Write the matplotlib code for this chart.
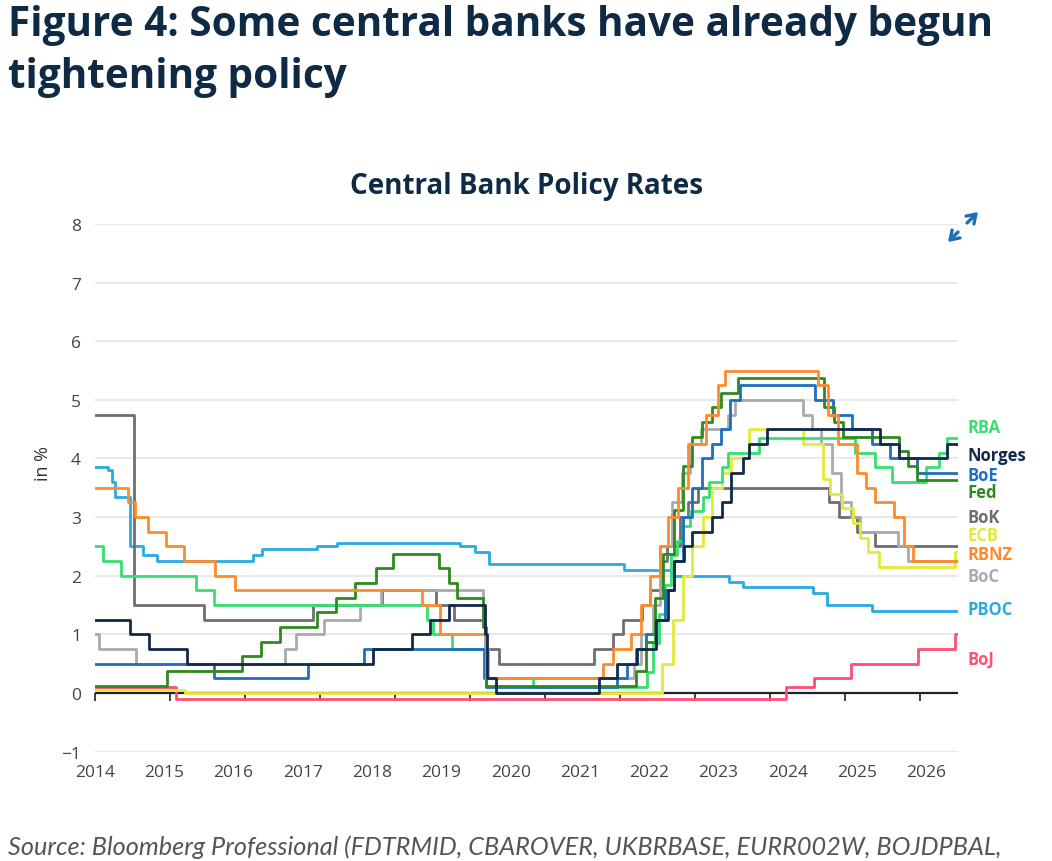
import numpy as np
import matplotlib
matplotlib.use("Agg")
import matplotlib.pyplot as plt
from matplotlib.patches import FancyArrowPatch

# policy rate series: change dates (decimal years) and rate after each change
fed_d = [2015.0, 2015.96, 2016.96, 2017.21, 2017.46, 2017.96, 2018.21, 2018.46, 2018.74, 2018.97,
         2019.58, 2019.72, 2019.83, 2020.17, 2020.21, 2022.21, 2022.34, 2022.46, 2022.57, 2022.72,
         2022.84, 2022.96, 2023.09, 2023.22, 2023.34, 2023.57, 2024.72, 2024.85, 2024.97, 2025.71,
         2025.83, 2025.95]
fed_r = [0.125, 0.375, 0.625, 0.875, 1.125, 1.375, 1.625, 1.875, 2.125, 2.375,
         2.125, 1.875, 1.625, 1.125, 0.125, 0.375, 0.875, 1.625, 2.375, 3.125,
         3.875, 4.375, 4.625, 4.875, 5.125, 5.375, 4.875, 4.625, 4.375, 4.125,
         3.875, 3.625]

boe_d = [2015.0, 2016.59, 2017.84, 2018.59, 2020.19, 2020.21, 2021.96, 2022.09, 2022.21, 2022.34,
         2022.46, 2022.59, 2022.72, 2022.84, 2022.96, 2023.09, 2023.22, 2023.34, 2023.46, 2023.59,
         2024.59, 2024.84, 2025.09, 2025.35, 2025.59, 2025.96]
boe_r = [0.5, 0.25, 0.5, 0.75, 0.25, 0.1, 0.25, 0.5, 0.75, 1.0,
         1.25, 1.75, 2.25, 3.0, 3.5, 4.0, 4.25, 4.5, 5.0, 5.25,
         5.0, 4.75, 4.5, 4.25, 4.0, 3.75]

ecb_d = [2015.0, 2016.2, 2022.55, 2022.7, 2022.84, 2022.96, 2023.1, 2023.22, 2023.36, 2023.47,
         2023.71, 2024.43, 2024.7, 2024.79, 2024.96, 2025.1, 2025.2, 2025.3, 2025.45, 2026.46]
ecb_r = [0.05, 0.0, 0.5, 1.25, 2.0, 2.5, 3.0, 3.5, 3.75, 4.0,
         4.5, 4.25, 3.65, 3.4, 3.15, 2.9, 2.65, 2.4, 2.15, 2.4]

boj_d = [2015.0, 2016.08, 2024.21, 2024.58, 2025.08, 2025.97, 2026.46]
boj_r = [0.1, -0.1, 0.1, 0.25, 0.5, 0.75, 1.0]

pboc_d = [2015.0, 2015.17, 2015.23, 2015.27, 2015.47, 2015.64, 2015.83, 2017.1, 2017.22, 2017.96,
          2018.23, 2019.87, 2020.07, 2020.25, 2022.05, 2022.68, 2023.45, 2023.64, 2024.57, 2024.75,
          2025.35]
pboc_r = [3.85, 3.8, 3.6, 3.35, 2.5, 2.35, 2.25, 2.35, 2.45, 2.5,
          2.55, 2.5, 2.4, 2.2, 2.1, 2.0, 1.9, 1.8, 1.7, 1.5,
          1.4]

rba_d = [2015.0, 2015.1, 2015.35, 2016.34, 2016.59, 2019.43, 2019.51, 2019.76, 2020.21, 2020.84,
         2022.35, 2022.43, 2022.51, 2022.59, 2022.68, 2022.76, 2022.84, 2022.93, 2023.1, 2023.18,
         2023.35, 2023.43, 2023.85, 2025.13, 2025.39, 2025.62, 2026.08, 2026.25, 2026.35]
rba_r = [2.5, 2.25, 2.0, 1.75, 1.5, 1.25, 1.0, 0.75, 0.25, 0.1,
         0.35, 0.85, 1.35, 1.85, 2.35, 2.6, 2.85, 3.1, 3.35, 3.6,
         3.85, 4.1, 4.35, 4.1, 3.85, 3.6, 3.85, 4.1, 4.35]

norges_d = [2015.0, 2015.47, 2015.72, 2016.22, 2018.71, 2019.22, 2019.47, 2019.72, 2020.2, 2020.22,
            2020.35, 2021.72, 2021.96, 2022.22, 2022.47, 2022.63, 2022.72, 2022.85, 2022.96, 2023.22,
            2023.35, 2023.47, 2023.63, 2023.72, 2023.96, 2025.46, 2025.72, 2026.36]
norges_r = [1.25, 1.0, 0.75, 0.5, 0.75, 1.0, 1.25, 1.5, 1.0, 0.25,
            0.0, 0.25, 0.5, 0.75, 1.25, 1.75, 2.25, 2.5, 2.75, 3.0,
            3.25, 3.75, 4.0, 4.25, 4.5, 4.25, 4.0, 4.25]

rbnz_d = [2015.0, 2015.44, 2015.53, 2015.7, 2015.95, 2016.19, 2016.6, 2016.86, 2019.36, 2019.6,
          2020.21, 2021.77, 2021.9, 2022.14, 2022.28, 2022.4, 2022.53, 2022.63, 2022.77, 2022.9,
          2023.14, 2023.3, 2023.4, 2024.63, 2024.77, 2024.9, 2025.15, 2025.28, 2025.4, 2025.65,
          2025.78, 2025.9]
rbnz_r = [3.5, 3.25, 3.0, 2.75, 2.5, 2.25, 2.0, 1.75, 1.5, 1.0,
          0.25, 0.5, 0.75, 1.0, 1.5, 2.0, 2.5, 3.0, 3.5, 4.25,
          4.75, 5.25, 5.5, 5.25, 4.75, 4.25, 3.75, 3.5, 3.25, 3.0,
          2.5, 2.25]

boc_d = [2015.0, 2015.05, 2015.54, 2017.53, 2017.68, 2018.05, 2018.53, 2018.81, 2020.17, 2020.2,
         2020.24, 2022.18, 2022.28, 2022.43, 2022.53, 2022.69, 2022.82, 2022.93, 2023.07, 2023.43,
         2023.53, 2024.43, 2024.56, 2024.68, 2024.82, 2024.94, 2025.07, 2025.2, 2025.7, 2025.83]
boc_r = [1.0, 0.75, 0.5, 0.75, 1.0, 1.25, 1.5, 1.75, 1.25, 0.75,
         0.25, 0.5, 1.0, 1.5, 2.5, 3.25, 3.75, 4.25, 4.5, 4.75,
         5.0, 4.75, 4.5, 4.25, 3.75, 3.25, 3.0, 2.75, 2.5, 2.25]

bok_d = [2015.0, 2015.52, 2016.45, 2017.9, 2018.83, 2019.54, 2019.79, 2020.2, 2020.38, 2021.65,
         2021.9, 2022.04, 2022.29, 2022.4, 2022.54, 2022.62, 2022.79, 2022.9, 2023.04, 2024.78,
         2024.91, 2025.16, 2025.4]
bok_r = [4.75, 1.5, 1.25, 1.5, 1.75, 1.5, 1.25, 0.75, 0.5, 0.75,
         1.0, 1.25, 1.5, 1.75, 2.25, 2.5, 3.0, 3.25, 3.5, 3.25,
         3.0, 2.75, 2.5]

end_date = 2026.5
year_ticks = list(range(2015, 2027))
year_labels = [str(y) for y in range(2014, 2027)]

# draw order (back to front)
series = [
    ("PBOC", pboc_d, pboc_r, "#2aa9e2"),
    ("BoJ", boj_d, boj_r, "#ff4f72"),
    ("BoK", bok_d, bok_r, "#6c6f71"),
    ("BoC", boc_d, boc_r, "#a8aaac"),
    ("ECB", ecb_d, ecb_r, "#e4ea38"),
    ("RBA", rba_d, rba_r, "#35e070"),
    ("BoE", boe_d, boe_r, "#1f6fc0"),
    ("Fed", fed_d, fed_r, "#2e8a1e"),
    ("RBNZ", rbnz_d, rbnz_r, "#ff8a2c"),
    ("Norges", norges_d, norges_r, "#12294a"),
]
# right-hand label heights (in % units)
label_y = {"RBA": 4.54, "Norges": 4.06, "BoE": 3.72, "Fed": 3.43, "BoK": 3.0,
           "ECB": 2.69, "RBNZ": 2.37, "BoC": 2.0, "PBOC": 1.43, "BoJ": 0.58}

navy = "#0f2a45"
sans = "Open Sans"
fig = plt.figure(figsize=(10.52, 8.62), dpi=100)
ax = fig.add_axes([95 / 1052, 1 - 752.6 / 862, 863 / 1052, 527.6 / 862])

for name, d, r, c in series:
    x = np.array(d + [end_date])
    y = np.array(r + [r[-1]])
    ax.plot(x, y, drawstyle="steps-post", color=c, lw=2.0, zorder=3)
    ax.text(end_date + 0.13, label_y[name], name, color=c, fontsize=12,
            fontweight="bold", family=sans, va="center", ha="left", clip_on=False)

ax.axhline(0, color="#222222", lw=1.6, zorder=2)
ax.set_xlim(2015, end_date)
ax.set_ylim(-1, 8)
ax.set_yticks(range(-1, 9))
ax.grid(axis="y", color="#e3e3e3", lw=1.1, zorder=0)
ax.set_axisbelow(True)
for s in ax.spines.values():
    s.set_visible(False)

# year labels are placed as in the source chart
ax.set_xticks(np.linspace(2015.0, 2026.08, 13), year_labels)
ax.tick_params(axis="x", length=0, pad=9, labelsize=12.5, labelcolor="#444444")
ax.tick_params(axis="y", length=0, pad=10, labelsize=12.5, labelcolor="#444444")
for lab in ax.get_xticklabels() + ax.get_yticklabels():
    lab.set_family(sans)

# year tick marks hanging from the zero line
zax = ax.secondary_xaxis(1 / 9)
zax.set_xticks(year_ticks)
zax.set_xticklabels([])
zax.tick_params(axis="x", direction="out", length=6, width=1.2, color="#222222")
zax.spines["bottom"].set_visible(False)

ax.set_title("Central Bank Policy Rates", fontsize=20, fontweight="bold",
             color=navy, family=sans, pad=22)
fig.text(43 / 1052, 1 - 464 / 862, "in %", rotation=90, fontsize=13,
         color="#333333", family=sans, ha="center", va="center")

fig.text(8 / 1052, 1 - 25 / 862, "Figure 4: Some central banks have already begun",
         fontsize=29.2, fontweight="bold", color=navy, family=sans, va="center")
fig.text(8 / 1052, 1 - 78 / 862, "tightening policy",
         fontsize=29.2, fontweight="bold", color=navy, family=sans, va="center")
fig.text(8 / 1052, 1 - 847 / 862,
         "Source: Bloomberg Professional (FDTRMID, CBAROVER, UKBRBASE, EURR002W, BOJDPBAL,",
         fontsize=18.2, style="italic", color="#555555", family="Lato", va="center")

# expand icon
for a, b in [((958, 233), (948, 243)), ((967, 224), (978, 213))]:
    fig.add_artist(FancyArrowPatch(
        (a[0] / 1052, 1 - a[1] / 862), (b[0] / 1052, 1 - b[1] / 862),
        transform=fig.transFigure, arrowstyle="->,head_length=6,head_width=4",
        shrinkA=0, shrinkB=0, color="#1a6fc0", lw=2.4))

fig.savefig("out.png", dpi=100)
